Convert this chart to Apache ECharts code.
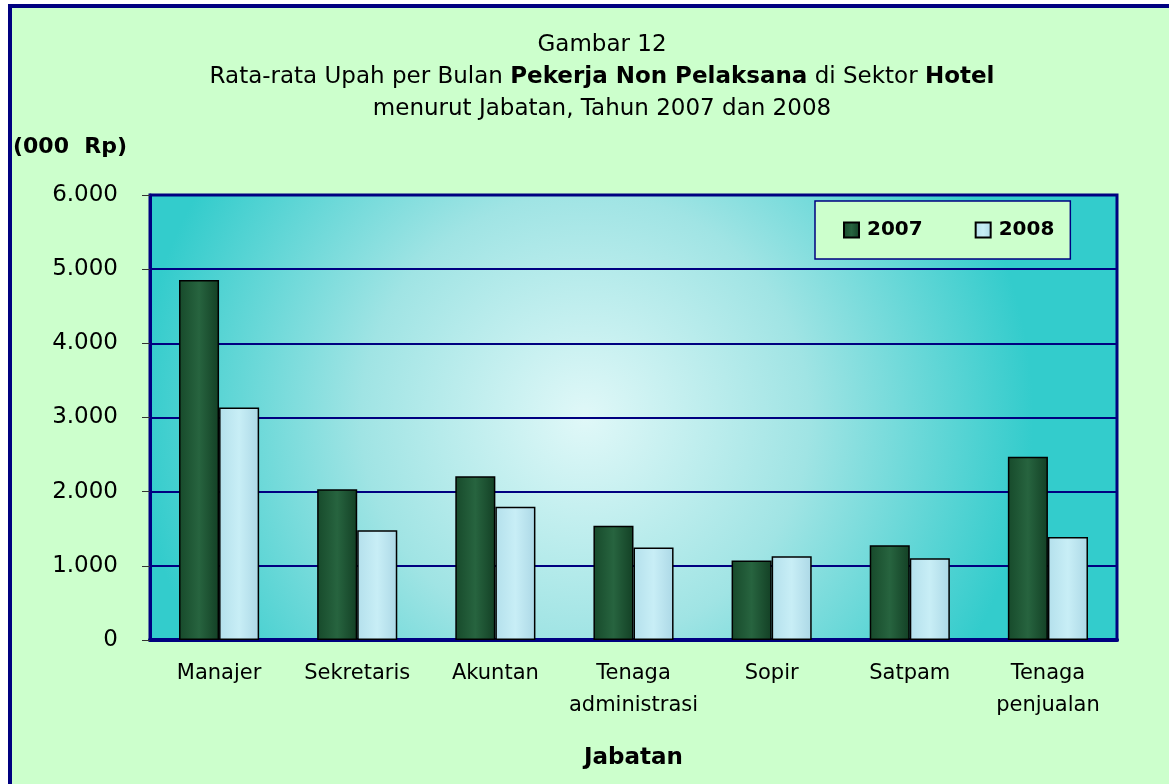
<!DOCTYPE html>
<html>
<head>
<meta charset="utf-8">
<script src="https://cdn.jsdelivr.net/npm/echarts@6/dist/echarts.min.js"></script>
<style>
  html, body { margin: 0; padding: 0; background: #fff; }
  #main { width: 1169px; height: 784px; }
</style>
</head>
<body>
<div id="main"></div>
<script>
// jabatan (kategori)
const categories = ['Manajer', 'Sekretaris', 'Akuntan', 'Tenaga\nadministrasi', 'Sopir', 'Satpam', 'Tenaga\npenjualan'];
// upah rata-rata (000 Rp)
const upah2007 = [4855, 2033, 2209, 1540, 1072, 1276, 2470];
const upah2008 = [3134, 1481, 1795, 1248, 1130, 1103, 1390];
const yTickLabels = ['0', '1.000', '2.000', '3.000', '4.000', '5.000', '6.000'];

const navy = '#000080';
const font = 'DejaVu Sans, Liberation Sans, sans-serif';

const myChart = echarts.init(document.getElementById('main'));

const option = {
  backgroundColor: '#ccffcc',
  textStyle: { fontFamily: font },
  title: {
    left: 597,
    top: 24,
    textAlign: 'center',
    text: '{n|Gambar 12}\n{n|Rata-rata Upah per Bulan }{b|Pekerja Non Pelaksana}{n| di Sektor }{b|Hotel}\n{n|menurut Jabatan, Tahun 2007 dan 2008}',
    textStyle: {
      fontWeight: 'normal',
      rich: {
        n: { fontSize: 23, color: '#000', lineHeight: 32, fontWeight: 'normal', fontFamily: font },
        b: { fontSize: 23, color: '#000', lineHeight: 32, fontWeight: 'bold', fontFamily: font }
      }
    }
  },
  legend: {
    left: 815,
    top: 201,
    padding: [19, 16, 19, 28],
    backgroundColor: '#ccffcc',
    borderColor: navy,
    borderWidth: 1.5,
    borderRadius: 0,
    itemWidth: 15,
    itemHeight: 15,
    itemGap: 52,
    icon: 'rect',
    textStyle: { fontSize: 20, fontWeight: 'bold', color: '#000', fontFamily: font, padding: [0, 0, 0, 3] },
    data: ['2007', '2008']
  },
  grid: {
    left: 150,
    right: 52,
    top: 195,
    bottom: 144,
    show: true,
    borderColor: navy,
    borderWidth: 3,
    backgroundColor: {
      type: 'radial', x: 0.45, y: 0.5, r: 1.0,
      colorStops: [
        { offset: 0, color: '#e0f8f8' },
        { offset: 0.5, color: '#a0e4e4' },
        { offset: 1, color: '#33cccc' }
      ]
    }
  },
  xAxis: {
    type: 'category',
    data: categories,
    axisTick: { show: false },
    axisLine: { lineStyle: { color: navy, width: 4 } },
    axisLabel: { fontSize: 21, color: '#000', margin: 18, lineHeight: 32, fontFamily: font, interval: 0 },
    name: 'Jabatan',
    nameLocation: 'middle',
    nameGap: 107,
    nameTextStyle: { fontSize: 23, fontWeight: 'bold', color: '#000', fontFamily: font }
  },
  yAxis: {
    type: 'value',
    min: 0,
    max: 6000,
    interval: 1000,
    axisLine: { show: true, lineStyle: { color: navy, width: 3 } },
    axisTick: { show: true, length: 8, lineStyle: { color: '#333', width: 1 } },
    axisLabel: {
      fontSize: 23, color: '#000', margin: 32, fontFamily: font,
      formatter: (v) => yTickLabels[Math.round(v / 1000)]
    },
    splitLine: { lineStyle: { color: navy, width: 2 } }
  },
  graphic: [
    { type: 'rect', shape: { x: 0, y: 0, width: 8, height: 784 }, style: { fill: '#fff' } },
    { type: 'rect', shape: { x: 0, y: 0, width: 1169, height: 4 }, style: { fill: '#fff' } },
    { type: 'rect', shape: { x: 8, y: 4, width: 4, height: 780 }, style: { fill: navy } },
    { type: 'rect', shape: { x: 8, y: 4, width: 1161, height: 4 }, style: { fill: navy } },
    {
      type: 'text', left: 13, top: 136,
      style: { text: '(000  Rp)', fontSize: 22, fontWeight: 'bold', fill: '#000', fontFamily: font }
    }
  ],
  series: [
    {
      name: '2007',
      type: 'bar',
      data: upah2007,
      barGap: '0%',
      barCategoryGap: '42%',
      itemStyle: {
        color: {
          type: 'linear', x: 0, y: 0, x2: 1, y2: 0,
          colorStops: [
            { offset: 0, color: '#174a2b' },
            { offset: 0.5, color: '#27643f' },
            { offset: 1, color: '#134025' }
          ]
        },
        borderColor: '#000',
        borderWidth: 1.5
      }
    },
    {
      name: '2008',
      type: 'bar',
      data: upah2008,
      itemStyle: {
        color: {
          type: 'linear', x: 0, y: 0, x2: 1, y2: 0,
          colorStops: [
            { offset: 0, color: '#b4e0ec' },
            { offset: 0.5, color: '#c8eef6' },
            { offset: 1, color: '#acd8e6' }
          ]
        },
        borderColor: '#000',
        borderWidth: 1.5
      }
    }
  ]
};

myChart.setOption(option);
</script>
</body>
</html>
